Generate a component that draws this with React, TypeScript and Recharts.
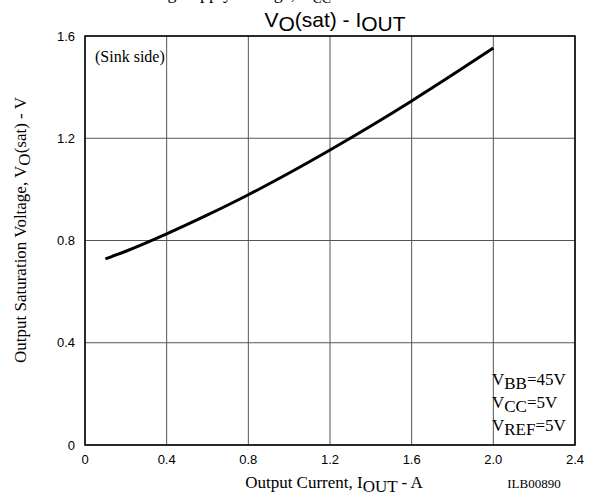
import { LineChart, Line, XAxis, YAxis, CartesianGrid, ReferenceArea } from 'recharts';

// curve
const currentA = [0.1, 0.2, 0.4, 0.6, 0.8, 1.0, 1.2, 1.4, 1.6, 1.8, 2.0];
const vsat = [0.728, 0.758, 0.826, 0.9, 0.979, 1.064, 1.154, 1.248, 1.346, 1.448, 1.553];

const xTicks = [0, 0.4, 0.8, 1.2, 1.6, 2.0, 2.4];
const xTickLabels = ['0', '0.4', '0.8', '1.2', '1.6', '2.0', '2.4'];
const yTicks = [0, 0.4, 0.8, 1.2, 1.6];
const yTickLabels = ['0', '0.4', '0.8', '1.2', '1.6'];

const data = currentA.map((x, i) => ({ x, v: vsat[i] }));

const serif = '"Liberation Serif", "Times New Roman", serif';
const sans = '"Liberation Sans", Arial, sans-serif';

export default function App() {
    return (
        <div style={{ position: 'absolute', left: 0, top: 0, width: 597, height: 500, background: '#fff' }}>
            <LineChart width={597} height={500} data={data} margin={{ top: 36, right: 22, left: 45, bottom: 25 }}>
                <CartesianGrid stroke="#555" strokeWidth={1} />
                <XAxis
                    dataKey="x"
                    type="number"
                    domain={[0, 2.4]}
                    ticks={xTicks}
                    tickFormatter={(t: number) => xTickLabels[xTicks.indexOf(t)] ?? String(t)}
                    height={30}
                    axisLine={false}
                    tickLine={false}
                    tickMargin={4}
                    tick={{ fill: '#000', fontSize: 13, fontFamily: sans }}
                />
                <YAxis
                    type="number"
                    domain={[0, 1.6]}
                    ticks={yTicks}
                    tickFormatter={(t: number) => yTickLabels[yTicks.indexOf(t)] ?? String(t)}
                    width={40}
                    axisLine={false}
                    tickLine={false}
                    tickMargin={4}
                    tick={{ fill: '#000', fontSize: 13, fontFamily: sans }}
                />
                <ReferenceArea x1={0} x2={2.4} y1={0} y2={1.6} fill="none" stroke="#000" strokeWidth={1.5} ifOverflow="visible" />
                <Line dataKey="v" type="monotone" stroke="#000" strokeWidth={3} dot={false} isAnimationActive={false} />
            </LineChart>

            <svg width={597} height={500} style={{ position: 'absolute', left: 0, top: 0, pointerEvents: 'none' }}>
                {/* caption of the previous chart, cut at the top edge */}
                <text x={100} y={-1} fontFamily={serif} fontSize={18} fill="#000">
                    vs Driving Supply Voltage, V<tspan dy={4} fontSize={14}>CC</tspan>
                </text>

                <text x={335} y={27} textAnchor="middle" fontFamily={sans} fontSize={21} fill="#000">
                    V<tspan dy={4}>O</tspan><tspan dy={-4}>(sat) - I</tspan><tspan dy={4}>OUT</tspan>
                </text>

                <text x={95} y={62} fontFamily={serif} fontSize={16} fill="#000">(Sink side)</text>

                <text x={492} y={385} fontFamily={serif} fontSize={17} fill="#000">
                    V<tspan dy={4}>BB</tspan><tspan dy={-4}>=45V</tspan>
                </text>
                <text x={492} y={408} fontFamily={serif} fontSize={17} fill="#000">
                    V<tspan dy={4}>CC</tspan><tspan dy={-4}>=5V</tspan>
                </text>
                <text x={492} y={431} fontFamily={serif} fontSize={17} fill="#000">
                    V<tspan dy={4}>REF</tspan><tspan dy={-4}>=5V</tspan>
                </text>

                <text x={334} y={488} textAnchor="middle" fontFamily={serif} fontSize={17} fill="#000">
                    Output Current, I<tspan dy={4}>OUT</tspan><tspan dy={-4}> - A</tspan>
                </text>
                <text x={534} y={488} textAnchor="middle" fontFamily={serif} fontSize={13} fill="#000">ILB00890</text>

                <text x={26} y={230} textAnchor="middle" fontFamily={serif} fontSize={17} fill="#000" transform="rotate(-90 26 230)">
                    Output Saturation Voltage, V<tspan dy={4}>O</tspan><tspan dy={-4}>(sat) - V</tspan>
                </text>
            </svg>
        </div>
    );
}
